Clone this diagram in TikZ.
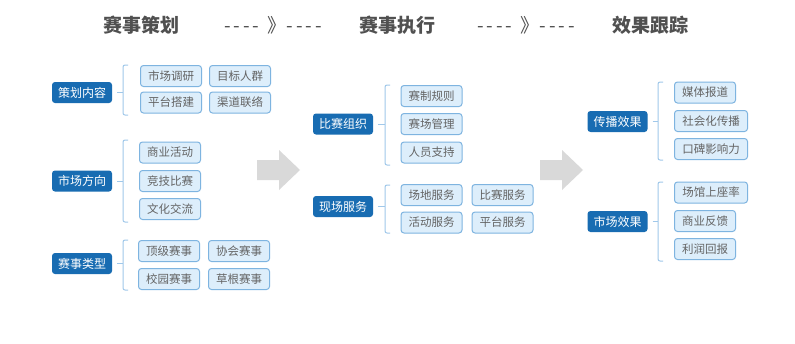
\documentclass[tikz,border=0pt]{standalone}
\usepackage{fontspec}
\newfontfamily\cjk{Noto Sans CJK SC}
\usetikzlibrary{positioning}
\definecolor{parentblue}{RGB}{24,108,178}
\definecolor{leafblue}{RGB}{221,238,251}
\definecolor{leafline}{RGB}{126,180,224}
\definecolor{brkblue}{RGB}{160,200,234}
\definecolor{leaftext}{RGB}{100,100,100}
\definecolor{titlegray}{RGB}{80,80,80}
\definecolor{arrowgray}{RGB}{217,217,217}
\newcommand\dashrun{-\kern3pt-\kern3pt-\kern3pt-}

\begin{document}
\begin{tikzpicture}[x=1pt, y=-1pt,
    parent/.style={fill=parentblue, rounded corners=3pt, minimum width=60pt, minimum height=21pt, inner sep=0pt, text=white, font=\cjk\fontsize{12}{12}\selectfont},
    leaf/.style={draw=leafline, fill=leafblue, line width=1pt, rounded corners=3pt, minimum width=61pt, minimum height=21pt, inner sep=0pt, text=leaftext, font=\cjk\fontsize{11.5}{12}\selectfont},
    wideleaf/.style={leaf, minimum width=73pt},
    brk/.style={draw=brkblue, line width=1pt, rounded corners=2pt},
    title/.style={text=titlegray, font=\cjk\bfseries\fontsize{19}{19}\selectfont},
    sepline/.style={text=titlegray, font=\cjk\fontsize{19}{19}\selectfont},
    bigarrow/.style={fill=arrowgray, draw=none},
]
\fill[white] (0,0) rectangle (795,343);
\useasboundingbox (0,0) rectangle (795,343);

% titles
\node[title] (t1) at (141,25) {赛事策划};
\node[sepline] (s1) at (273,25) {\dashrun\hspace{8pt}》\dashrun};
\node[title] (t2) at (397,25) {赛事执行};
\node[sepline] (s2) at (526,25) {\dashrun\hspace{8pt}》\dashrun};
\node[title] (t3) at (650,25) {效果跟踪};

% stage 1
\node[parent] (p1) at (82,92.5) {策划内容};
\node[leaf] (l11) at (171,76) {市场调研};
\node[leaf] (l12) at (240,76) {目标人群};
\node[leaf] (l13) at (171,102.5) {平台搭建};
\node[leaf] (l14) at (240,102.5) {渠道联络};

\node[parent] (p2) at (82,181) {市场方向};
\node[leaf] (l21) at (170,152.5) {商业活动};
\node[leaf] (l22) at (170,181) {竞技比赛};
\node[leaf] (l23) at (170,209) {文化交流};

\node[parent] (p3) at (82,263.5) {赛事类型};
\node[leaf] (l31) at (169,251) {顶级赛事};
\node[leaf] (l32) at (239,251) {协会赛事};
\node[leaf] (l33) at (169,279) {校园赛事};
\node[leaf] (l34) at (239,279) {草根赛事};

% stage 2
\node[parent] (p4) at (343,124) {比赛组织};
\node[leaf] (l41) at (431.5,96) {赛制规则};
\node[leaf] (l42) at (431.5,124) {赛场管理};
\node[leaf] (l43) at (431.5,152.5) {人员支持};

\node[parent] (p5) at (343,206.5) {现场服务};
\node[leaf] (l51) at (431.5,195) {场地服务};
\node[leaf] (l52) at (502.5,195) {比赛服务};
\node[leaf] (l53) at (431.5,222.5) {活动服务};
\node[leaf] (l54) at (502.5,222.5) {平台服务};

% stage 3
\node[parent] (p6) at (617.5,121.5) {传播效果};
\node[leaf] (l61) at (705,92.5) {媒体报道};
\node[wideleaf] (l62) at (711,121) {社会化传播};
\node[wideleaf] (l63) at (711,149) {口碑影响力};

\node[parent] (p7) at (617.5,221.5) {市场效果};
\node[wideleaf] (l71) at (711,192.5) {场馆上座率};
\node[leaf] (l72) at (705,221) {商业反馈};
\node[leaf] (l73) at (705,249) {利润回报};

% brackets
\coordinate (b1t) at (123,65);   \coordinate (b1b) at (123,115);
\coordinate (b2t) at (123,140);  \coordinate (b2b) at (123,222);
\coordinate (b3t) at (123,240);  \coordinate (b3b) at (123,290);
\coordinate (b4t) at (385,85);   \coordinate (b4b) at (385,165);
\coordinate (b5t) at (385,185);  \coordinate (b5b) at (385,233);
\coordinate (b6t) at (658,82);   \coordinate (b6b) at (658,160);
\coordinate (b7t) at (658,182);  \coordinate (b7b) at (658,261);
\foreach \i in {1,...,7} {
  \draw[brk] ([xshift=5pt]b\i t) -- (b\i t) -- (b\i b) -- ([xshift=5pt]b\i b);
  \draw[brk] ([xshift=5pt]p\i.east) -- (p\i.east -| b\i t);
}

% stage arrows
\fill[bigarrow] (257,160) -- (279,160) -- (279,150) -- (300,170) -- (279,190) -- (279,180) -- (257,180) -- cycle;
\fill[bigarrow] (540,160) -- (562,160) -- (562,150) -- (583,170) -- (562,190) -- (562,180) -- (540,180) -- cycle;
\end{tikzpicture}
\end{document}
